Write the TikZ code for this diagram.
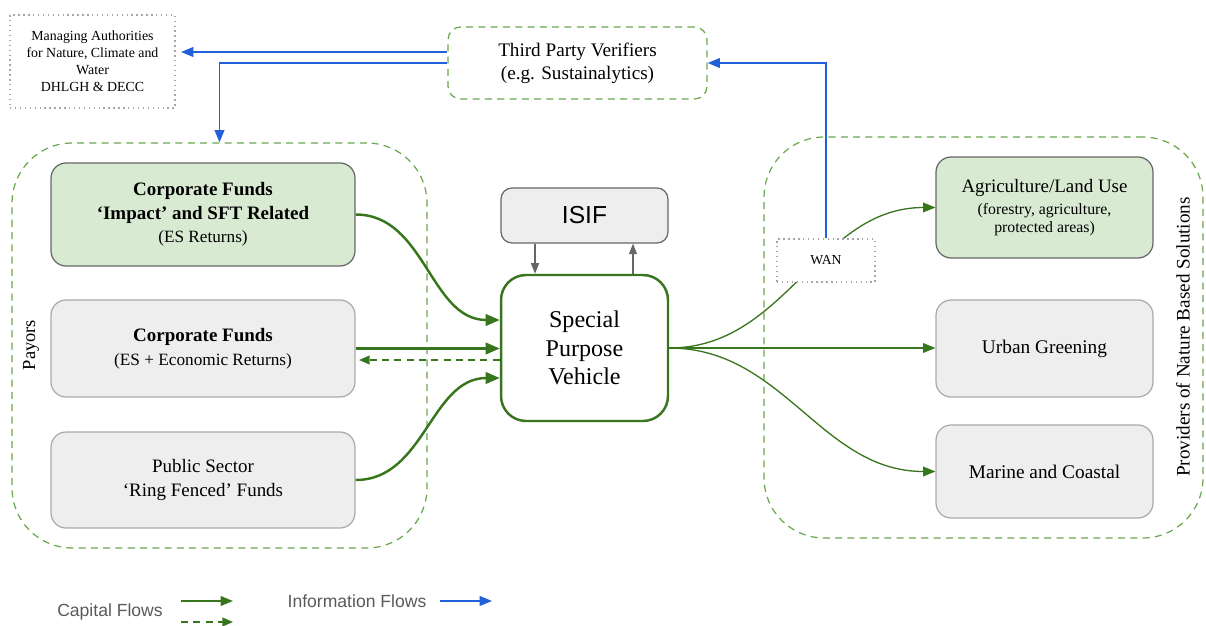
\documentclass[tikz,border=0pt]{standalone}
\usepackage{fontspec}
\setmainfont{Liberation Serif}
\setsansfont{Liberation Sans}
\usetikzlibrary{arrows.meta}
\definecolor{dkgreen}{HTML}{38761D}
\definecolor{ltgreen}{HTML}{6AA84F}
\definecolor{fillgreen}{HTML}{D9EAD3}
\definecolor{fillgray}{HTML}{EEEEEE}
\definecolor{bordgray}{HTML}{AAAAAA}
\definecolor{dkgray}{HTML}{666666}
\definecolor{infoblue}{HTML}{2160D8}
\definecolor{txtgray}{HTML}{595959}
\begin{document}
\begin{tikzpicture}[x=0.02cm,y=-0.02cm,
  group/.style={draw=ltgreen, dashed, dash pattern=on 4pt off 3pt, line width=0.7pt, rounded corners=1.2cm, inner sep=0pt},
  graybox/.style={draw=bordgray, fill=fillgray, line width=0.7pt, rounded corners=0.3cm, inner sep=0pt, align=center, font=\fontsize{10.8}{13.5}\selectfont},
  greenbox/.style={graybox, fill=fillgreen, draw=dkgray},
  dotbox/.style={draw=gray!70, dotted, line width=0.8pt, inner sep=0pt, align=center},
  capflow/.style={draw=dkgreen, line width=1.4pt, -{Triangle[length=8pt,width=6.5pt]}},
  capthin/.style={draw=dkgreen, line width=0.75pt, -{Triangle[length=7pt,width=5.5pt]}},
  capdash/.style={draw=dkgreen, line width=0.8pt, dashed, dash pattern=on 4pt off 3pt, -{Triangle[length=6pt,width=5pt]}},
  info/.style={draw=infoblue, line width=0.9pt, -{Triangle[length=7pt,width=5.5pt]}},
  grayarr/.style={draw=dkgray, line width=0.8pt, -{Triangle[length=6pt,width=4.5pt]}},
  lbl/.style={font=\fontsize{10.5}{12}\selectfont}
]
\useasboundingbox (0,0) rectangle (1206,625);

% groups
\node[group, minimum width=8.3cm, minimum height=8.1cm] (payors) at (219.5,345.5) {};
\node[group, minimum width=8.78cm, minimum height=8.02cm] (providers) at (983.5,337.5) {};
\node[lbl, rotate=90] (payorslbl) at (31,345) {Payors};
\node[rotate=90, font=\fontsize{10.9}{12}\selectfont] (provlbl) at (1183,337) {Providers of Nature Based Solutions};

% top boxes
\node[dotbox, minimum width=3.3cm, minimum height=1.86cm, font=\fontsize{7.9}{9.7}\selectfont] (ma) at (92.5,61.5)
  {Managing Authorities\\for Nature, Climate and\\Water\\DHLGH \& DECC};
\node[draw=ltgreen, dashed, dash pattern=on 4pt off 3pt, line width=0.7pt, rounded corners=0.25cm, inner sep=0pt,
  minimum width=5.18cm, minimum height=1.44cm, align=center, font=\fontsize{10.9}{13.2}\selectfont] (tpv) at (577.5,63)
  {Third Party Verifiers\\(e.g. Sustainalytics)};

% payor boxes
\node[greenbox, minimum width=6.08cm, minimum height=2.06cm] (impact) at (203,214.5)
  {\textbf{Corporate Funds}\\\textbf{‘Impact’ and SFT Related}\\{\fontsize{9.8}{13.5}\selectfont (ES Returns)}};
\node[graybox, minimum width=6.08cm, minimum height=1.94cm] (corp) at (203,348.5)
  {\textbf{Corporate Funds}\\{\fontsize{9.8}{13}\selectfont (ES + Economic Returns)}};
\node[graybox, minimum width=6.08cm, minimum height=1.92cm] (public) at (203,480)
  {Public Sector\\‘Ring Fenced’ Funds};

% centre
\node[graybox, draw=dkgray, rounded corners=0.22cm, minimum width=3.34cm, minimum height=1.1cm, font=\sffamily\fontsize{14}{16}\selectfont] (isif) at (584.5,215.5) {ISIF};
\node[draw=dkgreen, fill=white, line width=1.4pt, rounded corners=0.5cm, inner sep=0pt, minimum width=3.34cm, minimum height=2.92cm,
  align=center, font=\fontsize{13.7}{16.2}\selectfont] (spv) at (584.5,348) {Special\\Purpose\\Vehicle};

% providers
\node[greenbox, minimum width=4.34cm, minimum height=2.02cm] (agri) at (1044.5,207.5)
  {Agriculture/Land Use\\[-1pt]{\fontsize{9}{10.5}\selectfont (forestry, agriculture,}\\[-3.3pt]{\fontsize{9}{10.5}\selectfont protected areas)}};
\node[graybox, minimum width=4.34cm, minimum height=1.94cm, font=\fontsize{11}{13}\selectfont] (urban) at (1044.5,348.5) {Urban Greening};
\node[graybox, minimum width=4.34cm, minimum height=1.86cm, font=\fontsize{11}{13}\selectfont] (marine) at (1044.5,471.5) {Marine and Coastal};

% ISIF arrows
\draw[grayarr] ([xshift=-0.99cm]isif.south) -- ([xshift=-0.99cm]isif.south |- spv.north);
\draw[grayarr] ([xshift=0.97cm]isif.south |- spv.north) -- ([xshift=0.97cm]isif.south);

% capital flows in
\draw[capflow] (impact.east) to[out=0,in=180] ([yshift=0.56cm]spv.west);
\draw[capflow] (corp.east) -- (corp.east -| spv.west);
\coordinate (dashstart) at ([yshift=-0.24cm]spv.west);
\draw[capdash] (dashstart) -- ([xshift=2pt]dashstart -| corp.east);
\draw[capflow] (public.east) to[out=0,in=180] ([yshift=-0.6cm]spv.west);

% capital flows out
\draw[capthin] (spv.east) to[out=0,in=180] (agri.west);
\draw[capthin] (spv.east) -- (spv.east -| urban.west);
\draw[capthin] (spv.east) to[out=0,in=180] (marine.west);

\node[dotbox, fill=white, minimum width=1.96cm, minimum height=0.86cm, font=\fontsize{7.8}{9}\selectfont] (wan) at (826,260.5) {WAN};

% information flows
\coordinate (infoA) at ([yshift=0.22cm]tpv.west);
\draw[info] (infoA) -- ([xshift=3pt]infoA -| ma.east);
\draw[info] (tpv.west) -| (payors.north);
\draw[info] (wan.north) |- (tpv.east);

% legend
\node[font=\sffamily\fontsize{10}{12}\selectfont, text=txtgray] (legcap) at (110,612) {Capital Flows};
\coordinate (lc1a) at (181,601); \coordinate (lc1b) at (233,601);
\coordinate (lc2a) at (181,622); \coordinate (lc2b) at (233,622);
\draw[capthin, line width=0.9pt] (lc1a) -- (lc1b);
\draw[capdash] (lc2a) -- (lc2b);
\node[font=\sffamily\fontsize{10}{12}\selectfont, text=txtgray] (leginfo) at (357,601) {Information Flows};
\coordinate (li1a) at (440,601); \coordinate (li1b) at (492,601);
\draw[info] (li1a) -- (li1b);
\end{tikzpicture}
\end{document}
